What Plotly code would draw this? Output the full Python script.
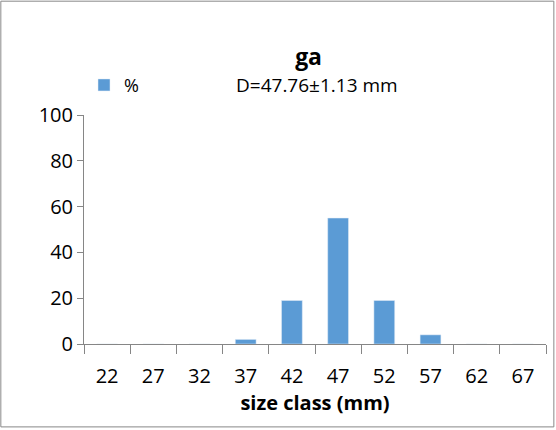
import plotly.graph_objects as go

categories = ["22", "27", "32", "37", "42", "47", "52", "57", "62", "67"]
values = [0, 0, 0, 2, 19, 55, 19, 4, 0, 0]
y_ticks = [0, 20, 40, 60, 80, 100]

fig = go.Figure(go.Bar(x=categories, y=values, name="%", marker_color="#5B9BD5", showlegend=True))
fig.update_layout(
    width=556, height=430, paper_bgcolor="white", plot_bgcolor="white",
    font=dict(family="Open Sans", size=20, color="black"),
    margin=dict(l=84, r=10, t=115, b=86, autoexpand=False),
    title=dict(text="<b>ga</b>", x=0.555, xanchor="center", y=0.868, yanchor="middle", font=dict(size=23)),
    legend=dict(x=0.0, y=1.13, xanchor="left", yanchor="middle", font=dict(size=18),
                itemwidth=30, bgcolor="rgba(0,0,0,0)", tracegroupgap=0),
    annotations=[dict(text="D=47.76±1.13 mm", xref="paper", yref="paper", x=0.505, y=1.13,
                      showarrow=False, xanchor="center", yanchor="middle", font=dict(size=19))],
    shapes=[dict(type="rect", xref="paper", yref="paper", x0=-0.18, x1=1.017, y0=-0.362, y1=1.497,
                 line=dict(color="#888", width=1))],
    bargap=0.55,
)
fig.update_xaxes(showline=True, linecolor="#868686", ticks="outside", tickcolor="#868686",
                 ticklen=9, tickson="boundaries", showgrid=False, automargin=False,
                 ticklabelstandoff=14,
                 title=dict(text="<b>size class (mm)</b>", standoff=5, font=dict(size=20)))
fig.update_yaxes(range=[0, 100], tickvals=y_ticks, showline=True, linecolor="#868686", automargin=False,
                 ticks="outside", tickcolor="#868686", ticklen=6, showgrid=False, zeroline=False)
fig.write_html("out.html", config={"displayModeBar": False})

with open("out.html", encoding="utf-8") as f:
    html = f.read()
html = html.replace("<body>", '<body style="margin:0">', 1)
with open("out.html", "w", encoding="utf-8") as f:
    f.write(html)
